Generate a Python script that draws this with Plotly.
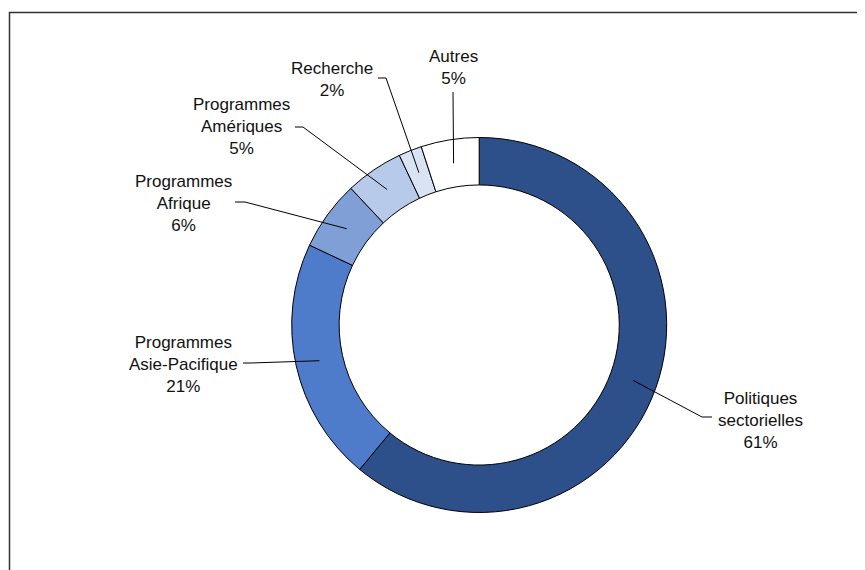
import math
import plotly.graph_objects as go

# ---- data ----
categories = ["Politiques sectorielles", "Programmes Asie-Pacifique", "Programmes Afrique",
              "Programmes Amériques", "Recherche", "Autres"]
label_texts = ["Politiques<br>sectorielles", "Programmes<br>Asie-Pacifique", "Programmes<br>Afrique",
               "Programmes<br>Amériques", "Recherche", "Autres"]
values = [61, 21, 6, 5, 2, 5]
colors = ["#2D4F8A", "#4E7BCA", "#7F9FD6", "#B8CAEA", "#DAE3F4", "#FFFFFF"]

# ---- layout geometry (pixels, in screenshot coordinates) ----
W, H = 865, 570
OFF = 8  # page body margin
CX, CY = 479.2, 325.0
R_OUT = 187.5
HOLE = 0.747
R_IN = R_OUT * HOLE
R_MID = (R_OUT + R_IN) / 2

# label center (x, y) and leader elbow / end points, in pixels
label_pos = [(760, 420), (183, 364), (183, 204), (242, 127), (332, 80), (453, 67.5)]
leader_elbow = [(702, 417), (251, 363), (245, 202), (303, 127), (386, 78), (453, 92)]
leader_end = [(712, 417), (243, 363), (235, 202), (295, 127), (378, 78), (453, 92)]


def px(x):
    return (x - OFF) / W


def py(y):
    return 1 - (y - OFF) / H


fig = go.Figure()
fig.add_trace(go.Pie(
    labels=categories,
    values=values,
    sort=False,
    direction="clockwise",
    rotation=0,
    hole=HOLE,
    textinfo="none",
    hoverinfo="label+percent",
    marker=dict(colors=colors, line=dict(color="#000000", width=1)),
    domain=dict(x=[px(CX - R_OUT), px(CX + R_OUT)],
                y=[py(CY + R_OUT), py(CY - R_OUT)]),
    showlegend=False,
))

total = sum(values)
shapes = []
annotations = []
cum = 0
for i, v in enumerate(values):
    mid = (cum + v / 2) / total * 2 * math.pi
    cum += v
    sx = CX + R_MID * math.sin(mid)
    sy = CY - R_MID * math.cos(mid)
    ex, ey = leader_elbow[i]
    tx, ty = leader_end[i]
    path = f"M {px(sx)},{py(sy)} L {px(ex)},{py(ey)} L {px(tx)},{py(ty)}"
    shapes.append(dict(type="path", xref="paper", yref="paper", path=path,
                       line=dict(color="#000000", width=1)))
    pct = round(v / total * 100)
    lx, ly = label_pos[i]
    annotations.append(dict(
        x=px(lx), y=py(ly), xref="paper", yref="paper",
        text=f"{label_texts[i]}<br>{pct}%",
        showarrow=False, xanchor="center", yanchor="middle", align="center",
        font=dict(family="Liberation Sans, Arial, sans-serif", size=17, color="#111111"),
    ))

# outer frame
shapes.append(dict(type="rect", xref="paper", yref="paper",
                   x0=px(9.5), y0=py(12.5), x1=px(W + 20), y1=py(H + 20),
                   line=dict(color="#333333", width=1.5), fillcolor="rgba(0,0,0,0)",
                   layer="below"))

fig.update_layout(
    width=W, height=H,
    margin=dict(l=0, r=0, t=0, b=0),
    paper_bgcolor="#FFFFFF",
    plot_bgcolor="#FFFFFF",
    shapes=shapes,
    annotations=annotations,
    font=dict(family="Liberation Sans, Arial, sans-serif"),
)

fig.write_html("out.html")
